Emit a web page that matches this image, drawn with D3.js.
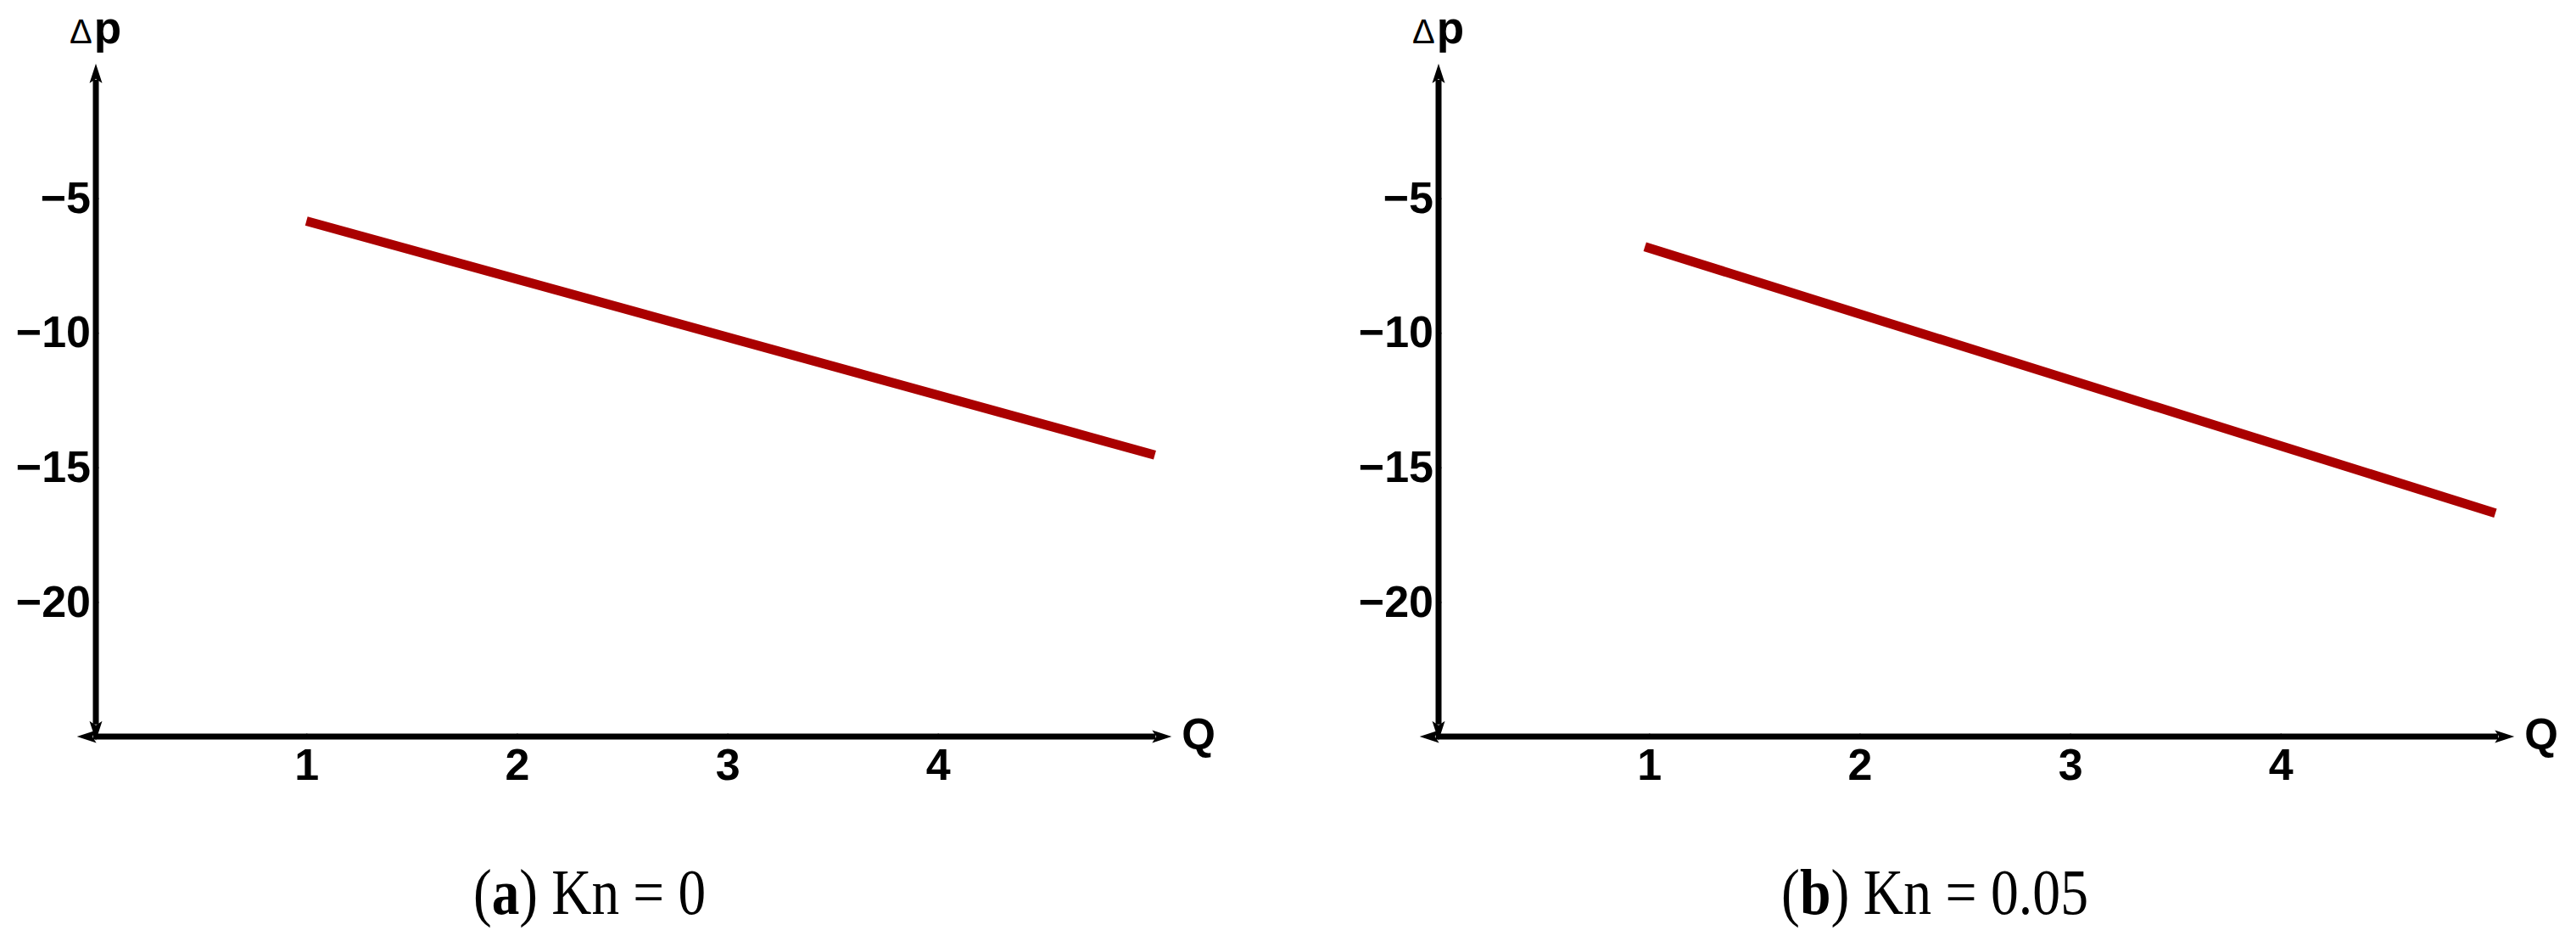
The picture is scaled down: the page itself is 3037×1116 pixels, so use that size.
<!DOCTYPE html>
<html>
<head>
<meta charset="utf-8">
<script src="https://cdn.jsdelivr.net/npm/d3@7"></script>
<style>
  body { margin: 0; background: #fff; }
  svg { display: block; }
</style>
</head>
<body>
<div id="chart"></div>
<script>
// values
const qTicks = [1, 2, 3, 4];
const dpTicks = [-5, -10, -15, -20];
const qKn0 = [1, 5.03];
const dpKn0 = [-5.85, -14.54];
const qKn005 = [0.98, 5.02];
const dpKn005 = [-6.8, -16.7];
const panelTags = ["a", "b"];
const panelKn = ["0", "0.05"];

var width = 3037, height = 1116;
var lineColor = "#aa0000";

var svg = d3.select("#chart")
    .append("svg")
    .attr("width", width)
    .attr("height", height);

// arrow heads for the axes (tip sticks out past the end of the line)
svg.append("defs").append("marker")
    .attr("id", "arrow")
    .attr("markerUnits", "userSpaceOnUse")
    .attr("viewBox", "-10 -10 40 20")
    .attr("markerWidth", 40)
    .attr("markerHeight", 20)
    .attr("refX", 0)
    .attr("refY", 0)
    .attr("orient", "auto-start-reverse")
    .append("path")
    .attr("d", "M-4,-7.5 L19,0 L-4,7.5 L1,0 Z")
    .attr("fill", "#000");

function draw_panel(ox, qs, dps, tag, kn, capX, capLen) {
    var xScale = d3.scaleLinear()
        .domain([0, 5])
        .range([ox, ox + 5 * 248.2]);

    var yScale = d3.scaleLinear()
        .domain([-25, 0])
        .range([868, 75]);

    var g = svg.append("g");

    // tiny ticks + labels
    var xAxis = g.append("g")
        .attr("transform", "translate(0," + yScale(-25) + ")")
        .call(d3.axisBottom(xScale).tickValues(qTicks).tickFormat(d3.format("d"))
            .tickSize(-4).tickPadding(14));

    var yAxis = g.append("g")
        .attr("transform", "translate(" + xScale(0) + ",0)")
        .call(d3.axisLeft(yScale).tickValues(dpTicks).tickFormat(d3.format("d"))
            .tickSize(-4).tickPadding(6));

    [xAxis, yAxis].forEach(function(a) {
        a.select(".domain").remove();
        a.selectAll(".tick line").attr("stroke", "#999").attr("stroke-width", 1.5);
        a.selectAll(".tick text")
            .attr("fill", "#000")
            .style("font-family", "'Liberation Sans', Arial, sans-serif")
            .style("font-weight", "bold")
            .style("font-size", "52px");
    });

    // axis lines, arrows at both ends
    g.append("line")
        .attr("x1", xScale(-0.09) + 19).attr("x2", xScale(5.11) - 19)
        .attr("y1", yScale(-25)).attr("y2", yScale(-25))
        .attr("stroke", "#000").attr("stroke-width", 7)
        .attr("marker-start", "url(#arrow)")
        .attr("marker-end", "url(#arrow)");

    g.append("line")
        .attr("x1", xScale(0)).attr("x2", xScale(0))
        .attr("y1", yScale(-25.15) - 19).attr("y2", yScale(0) + 19)
        .attr("stroke", "#000").attr("stroke-width", 7)
        .attr("marker-start", "url(#arrow)")
        .attr("marker-end", "url(#arrow)");

    // axis names
    var lab = g.append("text")
        .attr("x", xScale(0) - 31)
        .attr("y", 51)
        .attr("fill", "#000")
        .style("font-family", "'Liberation Sans', Arial, sans-serif");
    lab.append("tspan").style("font-size", "40px").text("Δ");
    lab.append("tspan").style("font-size", "53px").style("font-weight", "bold").attr("dx", 2).text("p");

    g.append("text")
        .attr("x", xScale(5.11) + 12)
        .attr("y", 883)
        .attr("fill", "#000")
        .style("font-family", "'Liberation Sans', Arial, sans-serif")
        .style("font-weight", "bold")
        .style("font-size", "51px")
        .text("Q");

    // the curve
    var pts = qs.map(function(q, i) { return {q: q, dp: dps[i]}; });
    var line = d3.line()
        .x(function(d) { return xScale(d.q); })
        .y(function(d) { return yScale(d.dp); });

    g.append("path")
        .datum(pts)
        .attr("d", line)
        .attr("fill", "none")
        .attr("stroke", lineColor)
        .attr("stroke-width", 11)
        .attr("stroke-linecap", "butt");

    // caption
    var cap = svg.append("text")
        .attr("x", capX)
        .attr("y", 1077)
        .attr("fill", "#000")
        .attr("textLength", capLen)
        .attr("lengthAdjust", "spacingAndGlyphs")
        .style("font-family", "'Liberation Serif', 'Times New Roman', serif")
        .style("font-size", "76px");
    cap.append("tspan").text("(");
    cap.append("tspan").style("font-weight", "bold").text(tag);
    cap.append("tspan").text(") Kn = " + kn);
}

draw_panel(113, qKn0, dpKn0, panelTags[0], panelKn[0], 558, 274);
draw_panel(1696, qKn005, dpKn005, panelTags[1], panelKn[1], 2100, 362);
</script>
</body>
</html>
